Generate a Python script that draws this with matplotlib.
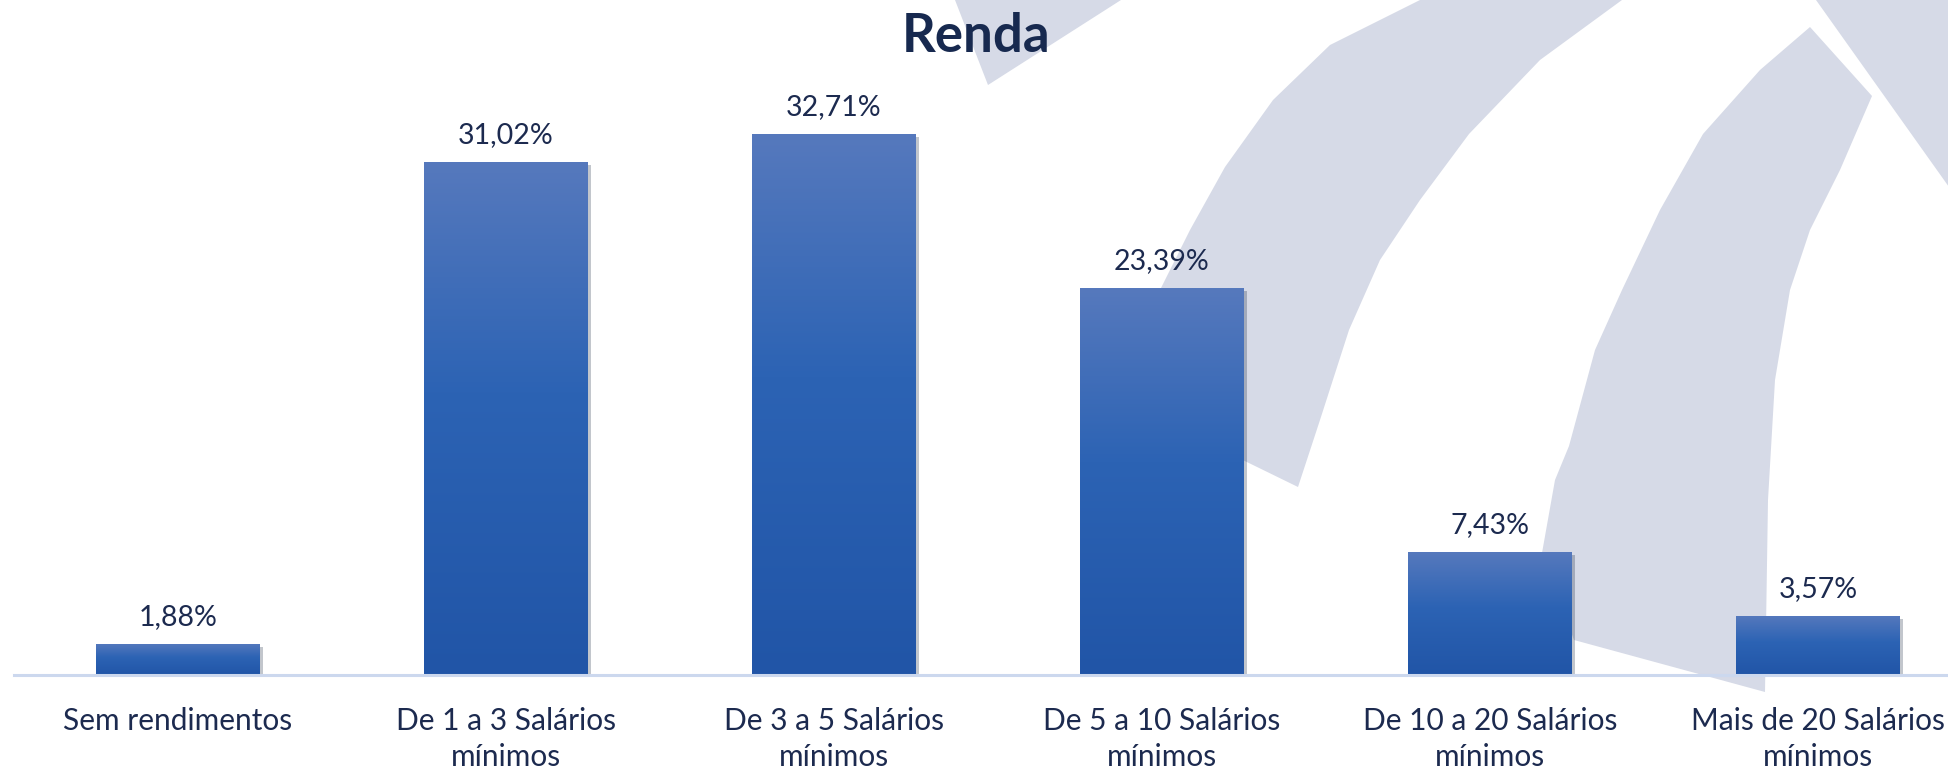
import numpy as np
import matplotlib
matplotlib.use("Agg")
import matplotlib.pyplot as plt
from matplotlib.patches import Polygon
from matplotlib.colors import LinearSegmentedColormap
import matplotlib.patheffects as pe

plt.rcParams["font.family"] = ["Lato", "DejaVu Sans"]

# ====== dados ======
categorias = [
    "Sem rendimentos",
    "De 1 a 3 Salários\nmínimos",
    "De 3 a 5 Salários\nmínimos",
    "De 5 a 10 Salários\nmínimos",
    "De 10 a 20 Salários\nmínimos",
    "Mais de 20 Salários\nmínimos",
]
valores = [1.88, 31.02, 32.71, 23.39, 7.43, 3.57]
rotulos = ["1,88%", "31,02%", "32,71%", "23,39%", "7,43%", "3,57%"]

W, H = 1949, 770
NAVY = "#1C2A4F"
WATERMARK = "#D6DAE7"

# marca d'agua (arcos do logo), em pixels da figura
marca = [
    [(955, 0), (1121, 0), (988, 85)],
    [(1420, 0), (1330, 45), (1273, 100), (1225, 167), (1190, 230),
     (1160, 290), (1137, 340), (1120, 400), (1298, 487), (1320, 420),
     (1349, 330), (1380, 260), (1420, 200), (1469, 134), (1540, 60),
     (1622, 0)],
    [(1810, 27), (1872, 96), (1840, 170), (1810, 230), (1790, 290),
     (1775, 380), (1768, 500), (1765, 692), (1574, 640), (1542, 553),
     (1555, 480), (1569, 446), (1595, 350), (1622, 290), (1660, 210),
     (1703, 134), (1760, 70)],
    [(1816, 0), (1949, 0), (1949, 187)],
]

fig = plt.figure(figsize=(W / 100, H / 100), dpi=100)

bg = fig.add_axes([0, 0, 1, 1], zorder=-1)
bg.set_xlim(0, W)
bg.set_ylim(H, 0)
bg.axis("off")
for pts in marca:
    bg.add_patch(Polygon(pts, closed=True, facecolor=WATERMARK, edgecolor="none"))

x0, x1, base = 14, W, 675
passo = 328
px_por_pct = 16.54
ax = fig.add_axes([x0 / W, (H - base) / H, (x1 - x0) / W, base / H])
ax.patch.set_alpha(0)

x = np.arange(len(categorias))
bars = ax.bar(
    x, valores, width=0.5, color="#2F62B2",
    path_effects=[pe.SimplePatchShadow(offset=(2, -2), alpha=0.25), pe.Normal()],
)

# gradiente em cada barra
cmap = LinearSegmentedColormap.from_list(
    "grad", [(0.0, "#2155A7"), (0.55, "#2C63B4"), (1.0, "#5679BD")]
)
grad = np.linspace(0, 1, 256).reshape(-1, 1)
for b in bars:
    im = ax.imshow(
        grad, cmap=cmap, aspect="auto", origin="lower",
        extent=[b.get_x(), b.get_x() + b.get_width(), 0, b.get_height()],
        zorder=b.get_zorder() + 0.1,
    )
    im.set_clip_path(b)

for b, txt in zip(bars, rotulos):
    ax.annotate(
        txt, (b.get_x() + b.get_width() / 2, b.get_height()),
        xytext=(0, 13.5), textcoords="offset points",
        ha="center", va="baseline", fontsize=20.5, color=NAVY,
    )

ax.set_xlim(-0.5, -0.5 + (x1 - x0) / passo)
ax.set_ylim(0, base / px_por_pct)
ax.set_xticks(x)
ax.set_xticklabels(categorias, fontsize=21.5, color=NAVY, linespacing=1.36)
ax.tick_params(axis="x", length=0, pad=23)
ax.set_yticks([])
for s in ["top", "left", "right"]:
    ax.spines[s].set_visible(False)
ax.spines["bottom"].set_color("#CCD8EE")
ax.spines["bottom"].set_linewidth(2.2)
ax.spines["bottom"].set_zorder(5)

fig.text(976 / W, 1 - 52 / H, "Renda", ha="center", va="baseline",
         fontsize=38, fontweight="bold", color="#17294F")

fig.savefig("out.png", dpi=100)
